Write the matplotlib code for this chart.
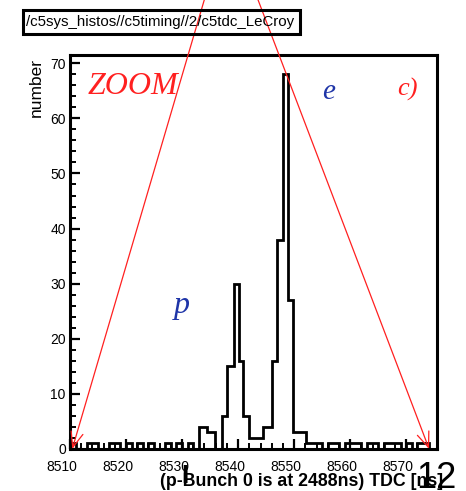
import matplotlib
matplotlib.use("Agg")
import matplotlib.pyplot as plt
from matplotlib.patches import Rectangle
from matplotlib.ticker import MultipleLocator
import matplotlib.transforms as mtransforms

# histogram bin edges (TDC, ns) and counts
tdc_edges = [8510, 8511, 8512, 8513, 8514, 8515, 8516, 8517, 8518, 8519,
             8520, 8521, 8522, 8523, 8524, 8525, 8526, 8527, 8528, 8529,
             8530, 8531, 8532, 8533, 8534.4, 8535.9, 8537.1, 8538, 8539.2,
             8540.2, 8540.8, 8542, 8544.5, 8546.1, 8547, 8548, 8548.9,
             8549.8, 8552.1, 8553, 8554, 8555, 8556, 8557, 8558, 8559, 8560,
             8561, 8562, 8563, 8564, 8565, 8566, 8567, 8568, 8569, 8570,
             8571, 8572, 8573, 8574, 8575, 8576]
counts = [1, 0, 0, 1, 1, 0, 0, 1, 1, 0,
          1, 0, 1, 0, 1, 0, 0, 1, 0, 1,
          0, 1, 0, 4, 3, 0, 6, 15, 30,
          16, 6, 2, 4, 16, 38, 68, 27,
          3, 1, 1, 1, 0, 1, 1, 0, 1,
          1, 1, 0, 1, 1, 0, 1, 1, 1, 0,
          1, 0, 1, 1, 0, 0]

x_range = [8510, 8575.5]
y_range = [0, 71.5]
x_ticks = [8510, 8520, 8530, 8540, 8550, 8560, 8570]
y_ticks = [0, 10, 20, 30, 40, 50, 60, 70]

# zoom lines: arrow tip on the axis, start above the frame
zoom_tips = [(8510.4, 0), (8574.1, 0)]
zoom_starts = [(8534.4, 83.0), (8543.0, 83.0)]

title = "/c5sys_histos//c5timing//2/c5tdc_LeCroy"
xlabel = "(p-Bunch 0 is at 2488ns) TDC [ns]"

sans = "Liberation Sans"
serif = "Liberation Serif"

fig = plt.figure(figsize=(4.66, 4.91), dpi=100)
ax = fig.add_axes([70/466, 1-449/491, (437-70)/466, (449-55)/491])

ax.stairs(counts, tdc_edges, color="black", lw=2.0, baseline=0)
ax.set_xlim(x_range)
ax.set_ylim(y_range)

for s in ax.spines.values():
    s.set_linewidth(2.2)

ax.set_xticks(x_ticks)
ax.set_yticks(y_ticks)
ax.xaxis.set_minor_locator(MultipleLocator(2))
ax.yaxis.set_minor_locator(MultipleLocator(2))
ax.tick_params(which="major", direction="in", length=7, width=1.6,
               labelsize=10, pad=3)
ax.tick_params(which="minor", direction="in", length=4, width=1.4)
ax.tick_params(axis="x", which="major", pad=8)
for lab in ax.get_xticklabels() + ax.get_yticklabels():
    lab.set_fontfamily(sans)
shift = mtransforms.ScaledTranslation(-8/100, 0, fig.dpi_scale_trans)
for lab in ax.get_xticklabels():
    lab.set_transform(lab.get_transform() + shift)

fig.text(36/466, 1-58/491, "number", rotation=90, ha="center", va="top",
         fontsize=12.5, family=sans)
fig.text(443/466, 1-482/491, xlabel, ha="right", va="center",
         fontsize=12.8, family=sans, fontweight="bold")
fig.text(436/466, 1-479/491, "12", ha="center", va="center",
         fontsize=26, family=sans)
fig.text(185/466, 1-476/491, "I", ha="center", va="center",
         fontsize=19, family=sans, fontweight="bold")

# title box
fig.add_artist(Rectangle((23/466, 1-34/491), 277/466, 24/491,
                         transform=fig.transFigure, fill=False,
                         lw=2.2, edgecolor="black"))
fig.text(26/466, 1-22/491, title, ha="left", va="center",
         fontsize=10.8, family=sans)

# annotations
ax.text(8521.2, 65.8, "ZOOM", color="#ff2020", fontsize=23, family=serif,
        style="italic", ha="center", va="center")
ax.text(8556.1, 64.7, "e", color="#1f35a8", fontsize=21, family=serif,
        style="italic", ha="center", va="center")
ax.text(8570.2, 65.2, "c)", color="#ff2020", fontsize=19, family=serif,
        style="italic", ha="center", va="center")
ax.text(8530.0, 26.0, "p", color="#1f35a8", fontsize=23, family=serif,
        style="italic", ha="center", va="center")

for tip, start in zip(zoom_tips, zoom_starts):
    ax.annotate("", xy=tip, xytext=start, xycoords="data",
                textcoords="data", annotation_clip=False,
                arrowprops=dict(arrowstyle="->,head_length=0.5,head_width=0.2",
                                color="#ff2020", lw=0.9, shrinkA=0, shrinkB=0,
                                mutation_scale=22))

fig.savefig("out.png", dpi=100)
